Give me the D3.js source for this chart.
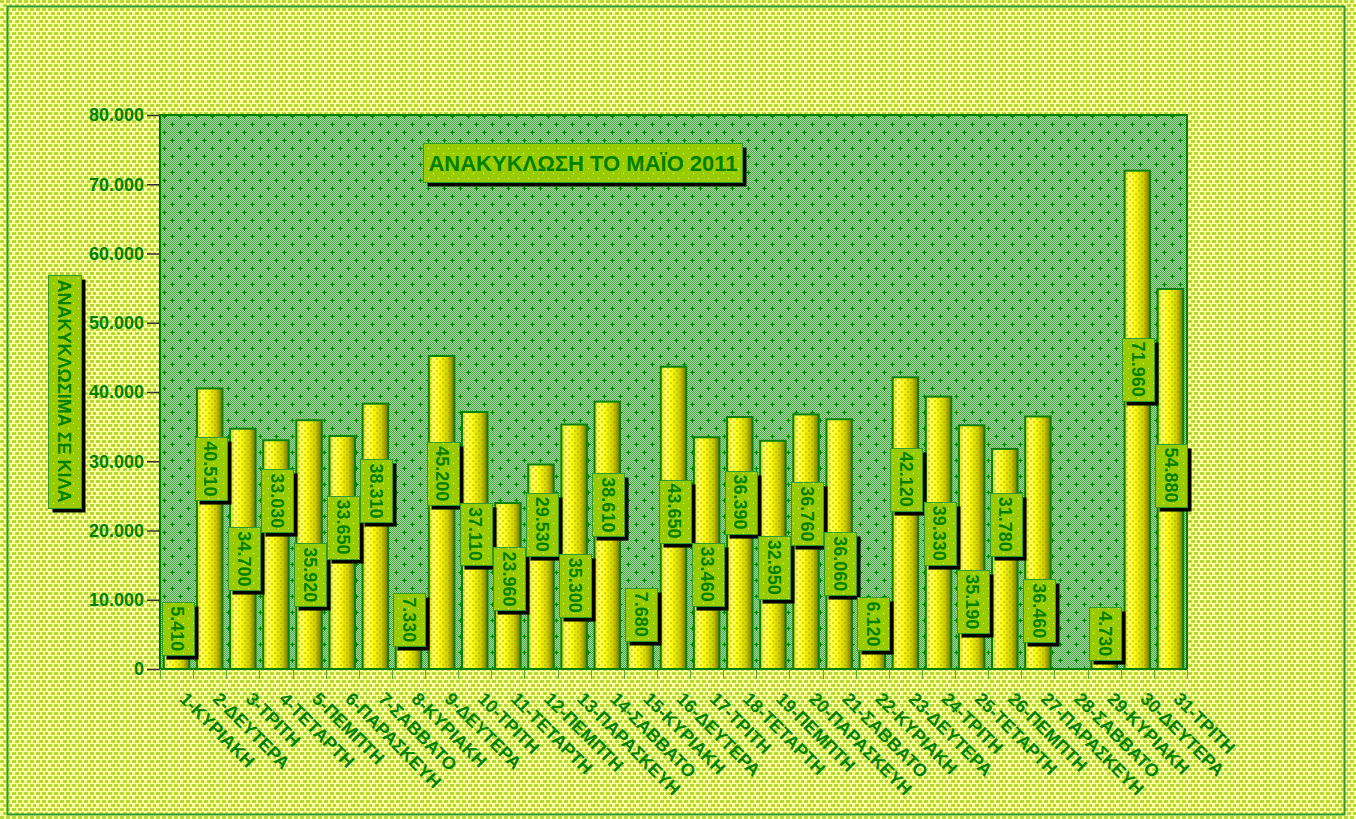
<!DOCTYPE html>
<html>
<head>
<meta charset="utf-8">
<script src="https://cdn.jsdelivr.net/npm/d3@7"></script>
<style>
	body { margin: 0; background: #fff; }
	svg { display: block; }
	text { font-family: "Liberation Sans", Arial, sans-serif; font-weight: bold; fill: #008000; }
</style>
</head>
<body>
<svg width="1356" height="819"></svg>
<script>
const TITLE = "ΑΝΑΚΥΚΛΩΣΗ ΤΟ ΜΑΪΟ 2011";
const Y_TITLE = "ΑΝΑΚΥΚΛΩΣΙΜΑ ΣΕ ΚΙΛΑ";

const days = [
	"1-ΚΥΡΙΑΚΗ", "2-ΔΕΥΤΕΡΑ", "3-ΤΡΙΤΗ", "4-ΤΕΤΑΡΤΗ", "5-ΠΕΜΠΤΗ", "6-ΠΑΡΑΣΚΕΥΗ", "7-ΣΑΒΒΑΤΟ",
	"8-ΚΥΡΙΑΚΗ", "9-ΔΕΥΤΕΡΑ", "10-ΤΡΙΤΗ", "11-ΤΕΤΑΡΤΗ", "12-ΠΕΜΠΤΗ", "13-ΠΑΡΑΣΚΕΥΗ", "14-ΣΑΒΒΑΤΟ",
	"15-ΚΥΡΙΑΚΗ", "16-ΔΕΥΤΕΡΑ", "17-ΤΡΙΤΗ", "18-ΤΕΤΑΡΤΗ", "19-ΠΕΜΠΤΗ", "20-ΠΑΡΑΣΚΕΥΗ", "21-ΣΑΒΒΑΤΟ",
	"22-ΚΥΡΙΑΚΗ", "23-ΔΕΥΤΕΡΑ", "24-ΤΡΙΤΗ", "25-ΤΕΤΑΡΤΗ", "26-ΠΕΜΠΤΗ", "27-ΠΑΡΑΣΚΕΥΗ", "28-ΣΑΒΒΑΤΟ",
	"29-ΚΥΡΙΑΚΗ", "30-ΔΕΥΤΕΡΑ", "31-ΤΡΙΤΗ"
];

// kilos collected per day (28th: nothing recorded)
const kilos = [
	5410, 40510, 34700, 33030, 35920, 33650, 38310,
	7330, 45200, 37110, 23960, 29530, 35300, 38610,
	7680, 43650, 33460, 36390, 32950, 36760, 36060,
	6120, 42120, 39330, 35190, 31780, 36460, null,
	4730, 71960, 54880
];

// value boxes were dragged by hand in the original, this is where each one sits (in kilos)
const labelAt = [
	5800, 28900, 15900, 24300, 13600, 20500, 25700,
	7100, 28200, 19500, 13000, 20900, 12100, 23700,
	7900, 22800, 13700, 24100, 14700, 22400, 15200,
	6500, 27400, 19600, 9700, 20900, 8400, null,
	5100, 43300, 28000
];

const yTicks = [0, 10000, 20000, 30000, 40000, 50000, 60000, 70000, 80000];

const greek = d3.formatLocale({ decimal: ",", thousands: ".", grouping: [3], currency: ["", " €"] });
const fmt = greek.format(",d");

class Chart {
	constructor() {
		this.svg = d3.select("svg");
		this.width = +this.svg.attr("width");
		this.height = +this.svg.attr("height");
		this.plot = { left: 160, top: 115, right: 1187, bottom: 669 };
		this.initPatterns();
		this.initBackground();
		this.initScales();
		this.initAxes();
		this.initBars();
		this.initValueBoxes();
		this.initTitles();
	}

	initPatterns() {
		var defs = this.svg.append("defs");

		// yellow paper with staggered lime squares for the chart area
		var paper = defs.append("pattern").attr("id", "paper")
			.attr("patternUnits", "userSpaceOnUse").attr("width", 12).attr("height", 8);
		paper.append("rect").attr("width", 12).attr("height", 8).attr("fill", "#ffff9c");
		[[0, 0], [6, 0], [3, 4], [9, 4]].forEach((p) => {
			paper.append("rect").attr("x", p[0]).attr("y", p[1]).attr("width", 4).attr("height", 3).attr("fill", "#b6dd3c");
			paper.append("rect").attr("x", p[0] + 1).attr("y", p[1] + 1).attr("width", 2).attr("height", 1).attr("fill", "#9fcf1e");
		});

		// fine green checker + crosses for the plot area
		var checker = defs.append("pattern").attr("id", "checker")
			.attr("patternUnits", "userSpaceOnUse").attr("width", 2).attr("height", 2);
		checker.append("rect").attr("width", 2).attr("height", 2).attr("fill", "#a6d6a0");
		checker.append("rect").attr("width", 1).attr("height", 1).attr("fill", "#4fa84a");
		checker.append("rect").attr("x", 1).attr("y", 1).attr("width", 1).attr("height", 1).attr("fill", "#4fa84a");

		var grass = defs.append("pattern").attr("id", "grass")
			.attr("patternUnits", "userSpaceOnUse").attr("width", 16).attr("height", 16);
		grass.append("rect").attr("width", 16).attr("height", 16).attr("fill", "url(#checker)");
		[[4, 4], [12, 12]].forEach((p) => {
			grass.append("rect").attr("x", p[0] - 2).attr("y", p[1]).attr("width", 5).attr("height", 1).attr("fill", "#008a00");
			grass.append("rect").attr("x", p[0]).attr("y", p[1] - 2).attr("width", 1).attr("height", 5).attr("fill", "#008a00");
		});

		// cylinder shading on the bars
		var grad = defs.append("linearGradient").attr("id", "cyl")
			.attr("x1", 0).attr("x2", 1).attr("y1", 0).attr("y2", 0);
		[[0, "#d8d800"], [0.18, "#ffff66"], [0.4, "#ffff10"], [0.75, "#cccc00"], [1, "#6f6f00"]].forEach((s) => {
			grad.append("stop").attr("offset", s[0]).attr("stop-color", s[1]);
		});

		var speck = defs.append("pattern").attr("id", "speck")
			.attr("patternUnits", "userSpaceOnUse").attr("width", 6).attr("height", 6);
		speck.append("rect").attr("x", 1).attr("y", 1).attr("width", 2).attr("height", 2).attr("fill", "rgba(140,140,0,0.35)");
		speck.append("rect").attr("x", 4).attr("y", 4).attr("width", 2).attr("height", 2).attr("fill", "rgba(140,140,0,0.35)");

		// lime boxes with tiny pale dots
		var lime = defs.append("pattern").attr("id", "lime")
			.attr("patternUnits", "userSpaceOnUse").attr("width", 10).attr("height", 10);
		lime.append("rect").attr("width", 10).attr("height", 10).attr("fill", "#99cc00");
		lime.append("rect").attr("x", 3).attr("y", 3).attr("width", 1).attr("height", 1).attr("fill", "#e6ff99");
		lime.append("rect").attr("x", 8).attr("y", 8).attr("width", 1).attr("height", 1).attr("fill", "#e6ff99");
	}

	initBackground() {
		this.svg.append("rect")
			.attr("width", this.width).attr("height", this.height)
			.attr("fill", "url(#paper)");
		this.svg.append("rect")
			.attr("x", 7.5).attr("y", 6.5)
			.attr("width", 1337).attr("height", 808)
			.attr("fill", "none").attr("stroke", "#2e9a2e").attr("stroke-width", 2);

		var p = this.plot;
		this.svg.append("rect")
			.attr("x", p.left).attr("y", p.top)
			.attr("width", p.right - p.left).attr("height", p.bottom - p.top)
			.attr("fill", "url(#grass)")
			.attr("stroke", "#008000").attr("stroke-width", 2);
	}

	initScales() {
		var p = this.plot;
		this.x = d3.scaleBand()
			.domain(days)
			.range([p.left, p.right]);
		this.y = d3.scaleLinear()
			.domain([0, 80000])
			.range([p.bottom, p.top]);
	}

	initAxes() {
		var p = this.plot;
		var yAxis = d3.axisLeft(this.y)
			.tickValues(yTicks)
			.tickFormat(fmt)
			.tickSize(12)
			.tickSizeOuter(0)
			.tickPadding(3);

		var gy = this.svg.append("g")
			.attr("transform", "translate(" + (p.left - 1) + ",0)")
			.call(yAxis);
		gy.select(".domain").attr("stroke", "#1f3f1f").attr("stroke-width", 1);
		gy.selectAll(".tick line").attr("stroke", "#333").attr("stroke-width", 1.5);
		gy.selectAll(".tick text")
			.attr("font-size", 18)
			.attr("font-family", null)
			.attr("fill", "#008000");

		// ticks between the days
		var step = this.x.step();
		this.svg.append("g")
			.selectAll("line")
			.data(d3.range(days.length + 1))
			.enter().append("line")
			.attr("x1", (i) => Math.round(this.x.range()[0] + i * step) + 0.5)
			.attr("x2", (i) => Math.round(this.x.range()[0] + i * step) + 0.5)
			.attr("y1", p.bottom)
			.attr("y2", p.bottom + 10)
			.attr("stroke", "#5fa83a")
			.attr("stroke-width", 1);

		this.svg.append("g")
			.selectAll("text")
			.data(days)
			.enter().append("text")
			.attr("transform", (d) => "translate(" + (this.x(d) + this.x.bandwidth() / 2 + 2) + "," + (p.bottom + 31) + ") rotate(45)")
			.attr("font-size", 18)
			.attr("text-anchor", "start")
			.text((d) => d);
	}

	initBars() {
		var bw = this.x.bandwidth() * 0.77;
		var rows = days.map((d, i) => ({ day: d, value: kilos[i], at: labelAt[i] }))
			.filter((d) => d.value !== null);
		this.rows = rows;

		var bars = this.svg.append("g").attr("class", "bars")
			.selectAll("g")
			.data(rows)
			.enter().append("g");

		bars.append("rect")
			.attr("x", (d) => this.x(d.day) + (this.x.bandwidth() - bw) / 2)
			.attr("y", (d) => this.y(d.value))
			.attr("width", bw)
			.attr("height", (d) => this.y(0) - this.y(d.value))
			.attr("fill", "url(#cyl)")
			.attr("stroke", "#0a800a")
			.attr("stroke-width", 2);

		bars.append("rect")
			.attr("x", (d) => this.x(d.day) + (this.x.bandwidth() - bw) / 2 + 1)
			.attr("y", (d) => this.y(d.value) + 1)
			.attr("width", bw - 2)
			.attr("height", (d) => Math.max(0, this.y(0) - this.y(d.value) - 2))
			.attr("fill", "url(#speck)");
	}

	drawBox(g, x, y, w, h) {
		g.append("rect")
			.attr("x", x + 4).attr("y", y + 4)
			.attr("width", w).attr("height", h)
			.attr("fill", "#000");
		g.append("rect")
			.attr("x", x).attr("y", y)
			.attr("width", w).attr("height", h)
			.attr("fill", "url(#lime)")
			.attr("stroke", "#2f9a2f").attr("stroke-width", 1);
	}

	initValueBoxes() {
		var that = this;
		var boxes = this.svg.append("g").attr("class", "value-boxes")
			.selectAll("g")
			.data(this.rows)
			.enter().append("g");

		boxes.each(function(d) {
			var g = d3.select(this);
			var cx = that.x(d.day) + that.x.bandwidth() / 2 + 1;
			var cy = that.y(d.at);
			var t = g.append("text")
				.attr("font-size", 18)
				.attr("text-anchor", "middle")
				.attr("dy", "0.35em")
				.attr("transform", "translate(" + cx + "," + cy + ") rotate(90)")
				.text(fmt(d.value));
			var len = t.node().getComputedTextLength();
			var w = 32, h = len + 8;
			var box = g.insert("g", "text");
			that.drawBox(box, Math.round(cx - w / 2) + 0.5, Math.round(cy - h / 2) + 0.5, w, h);
		});
	}

	initTitles() {
		// chart title
		var g = this.svg.append("g");
		var t = g.append("text")
			.attr("x", 583).attr("y", 163)
			.attr("dy", "0.35em")
			.attr("text-anchor", "middle")
			.attr("font-size", 22)
			.text(TITLE);
		var len = t.node().getComputedTextLength();
		this.drawBox(g.insert("g", "text"), Math.round(583 - len / 2 - 5) + 0.5, 143.5, Math.round(len + 10), 39);

		// y axis title
		var gy = this.svg.append("g");
		gy.append("text")
			.attr("transform", "translate(64.5,391) rotate(90)")
			.attr("dy", "0.35em")
			.attr("text-anchor", "middle")
			.attr("font-size", 18)
			.text(Y_TITLE);
		this.drawBox(gy.insert("g", "text"), 48.5, 275.5, 33, 233);
	}
}

new Chart();
</script>
</body>
</html>
